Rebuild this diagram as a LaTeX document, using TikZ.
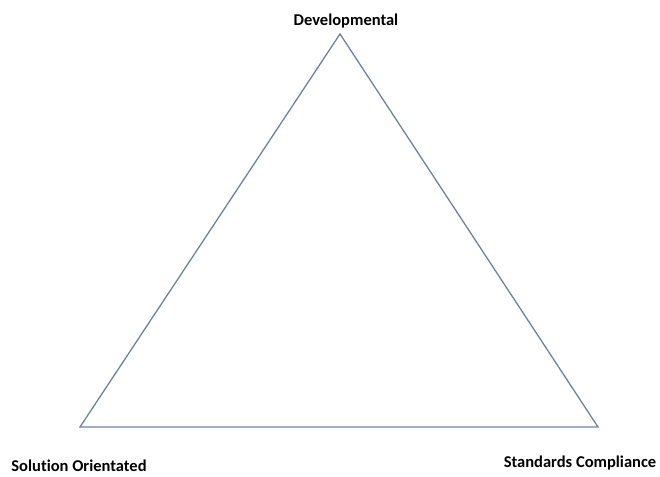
\documentclass[tikz,border=0pt]{standalone}
\usepackage{fontspec}
\setmainfont[Ligatures=NoCommon]{Carlito}
\usepackage{tikz}
\usetikzlibrary{positioning}
\definecolor{edgeblue}{RGB}{110,130,160}

\begin{document}
\begin{tikzpicture}[x=1pt,y=-1pt]
\tikzset{corner/.style={font=\bfseries\fontsize{16.5}{19}\selectfont,inner sep=0pt}}
\useasboundingbox (0,0) rectangle (660,476);
% corners of the triangle
\coordinate (top) at (340,34);
\coordinate (left) at (80,427);
\coordinate (right) at (598,427);
\draw[edgeblue,line width=1.3pt] (top) -- (right) -- (left) -- cycle;

\node[corner] (dev) at (346,21) {Developmental};
\node[corner] (sol) at (79,466) {Solution Orientated};
\node[corner] (std) at (580,463) {Standards Compliance};
\end{tikzpicture}
\end{document}
